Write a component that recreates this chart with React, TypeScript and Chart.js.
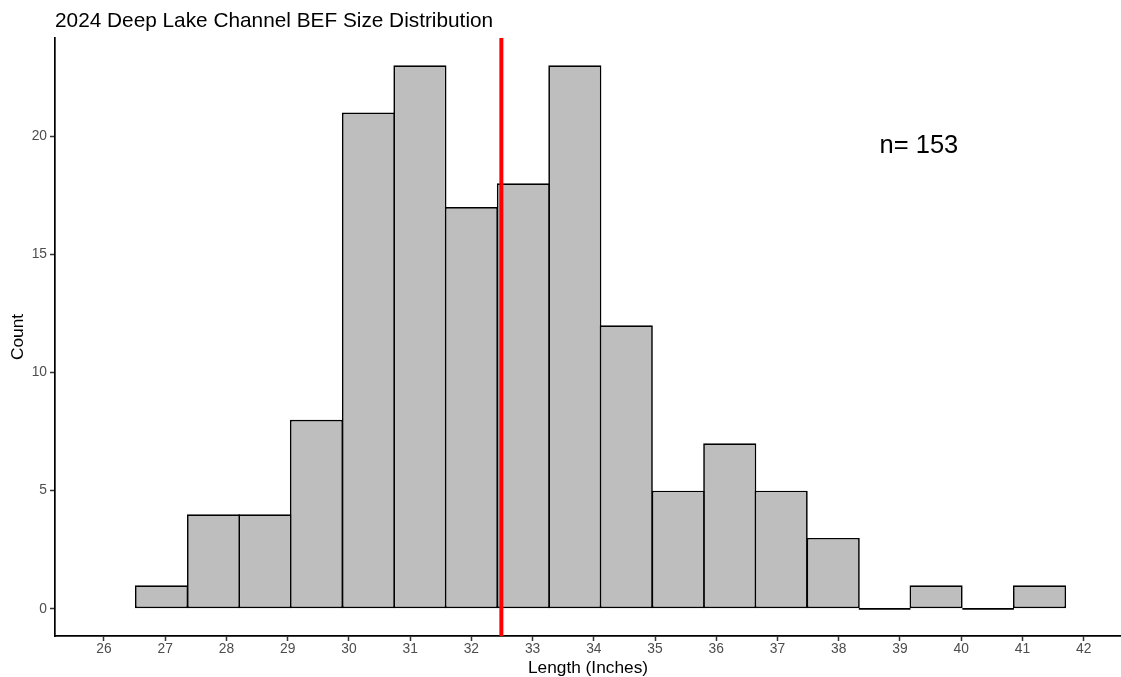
import React, { useEffect, useRef } from "react";
import { Chart, registerables } from "chart.js";

Chart.register(...registerables);

// ---- Data ----
const TITLE = "2024 Deep Lake Channel BEF Size Distribution";
const X_TITLE = "Length (Inches)";
const Y_TITLE = "Count";
const BIN_CENTERS = [
  26.94, 27.79, 28.63, 29.47, 30.32, 31.16, 32.0, 32.85, 33.69, 34.53, 35.38,
  36.22, 37.06, 37.91, 38.75, 39.59, 40.44, 41.28,
];
const COUNTS = [1, 4, 4, 8, 21, 23, 17, 18, 23, 12, 5, 7, 5, 3, 0, 1, 0, 1];
const BIN_WIDTH = 0.843;
const MEAN_LENGTH = 32.49;
const X_TICKS = [26, 27, 28, 29, 30, 31, 32, 33, 34, 35, 36, 37, 38, 39, 40, 41, 42];
const Y_TICKS = [0, 5, 10, 15, 20];
const X_LIMITS = [25.2, 42.61];
const Y_LIMITS = [-1.15, 24.15];
const N_LABEL = "n= 153";
const N_LABEL_POS = { x: 39.31, y: 19.58 };

const FONT = "'Liberation Sans', Arial, sans-serif";

const titlePlugin = {
  id: "customTitle",
  afterDraw(chart: any) {
    const ctx = chart.ctx;
    ctx.save();
    ctx.font = `20.8px ${FONT}`;
    ctx.fillStyle = "#000000";
    ctx.textAlign = "left";
    ctx.textBaseline = "alphabetic";
    ctx.fillText(TITLE, chart.chartArea.left, 26.6);
    ctx.restore();
  },
};

const annotationPlugin = {
  id: "nLabel",
  afterDatasetsDraw(chart: any) {
    const ctx = chart.ctx;
    const x = chart.scales.x.getPixelForValue(N_LABEL_POS.x);
    const y = chart.scales.y.getPixelForValue(N_LABEL_POS.y);
    ctx.save();
    ctx.font = `25.5px ${FONT}`;
    ctx.fillStyle = "#000000";
    ctx.textAlign = "center";
    ctx.textBaseline = "middle";
    ctx.fillText(N_LABEL, x, y);
    ctx.restore();
  },
};

export default function App() {
  const ref = useRef<HTMLCanvasElement | null>(null);

  useEffect(() => {
    document.body.style.margin = "0";
    const canvas = ref.current;
    if (!canvas) return;

    const barData = BIN_CENTERS.map((x, i) => ({ x, y: COUNTS[i] }));
    // outline for empty bins (zero-height bars)
    const emptyBins: any[] = [];
    BIN_CENTERS.forEach((c, i) => {
      if (COUNTS[i] === 0) {
        emptyBins.push({ x: c - BIN_WIDTH / 2, y: 0 });
        emptyBins.push({ x: c + BIN_WIDTH / 2, y: 0 });
        emptyBins.push({ x: c + BIN_WIDTH / 2 + 0.001, y: null });
      }
    });
    const meanLine = [
      { x: MEAN_LENGTH, y: Y_LIMITS[0] },
      { x: MEAN_LENGTH, y: Y_LIMITS[1] },
    ];

    const tickFont = { family: FONT, size: 13.8 };

    const chart = new Chart(canvas, {
      type: "bar",
      data: {
        datasets: [
          {
            type: "bar",
            label: "count",
            data: barData as any,
            backgroundColor: "#BEBEBE",
            borderColor: "#000000",
            borderWidth: 1.7,
            borderSkipped: false,
            barPercentage: 1.033,
            categoryPercentage: 1,
            order: 2,
          } as any,
          {
            type: "line",
            label: "empty",
            data: emptyBins,
            borderColor: "#000000",
            borderWidth: 1.7,
            pointRadius: 0,
            spanGaps: false,
            order: 1,
          } as any,
          {
            type: "line",
            label: "mean",
            data: meanLine as any,
            borderColor: "#FF0000",
            borderWidth: 4,
            pointRadius: 0,
            order: 0,
          } as any,
        ],
      },
      options: {
        animation: false,
        responsive: false,
        layout: { padding: { top: 38, left: 0, right: 0, bottom: 0 } },
        plugins: {
          legend: { display: false },
          tooltip: { enabled: false },
          title: { display: false },
        },
        scales: {
          x: {
            type: "linear",
            min: X_LIMITS[0],
            max: X_LIMITS[1],
            offset: false,
            afterBuildTicks: (scale: any) => {
              scale.ticks = X_TICKS.map((v) => ({ value: v }));
            },
            afterFit: (scale: any) => {
              scale.height = 41;
            },
            grid: {
              display: true,
              drawOnChartArea: false,
              drawTicks: true,
              tickLength: 5,
              tickColor: "#333333",
              tickWidth: 1.5,
              offset: false,
            },
            border: { display: true, color: "#000000", width: 1.7 },
            ticks: {
              color: "#4D4D4D",
              font: tickFont,
              padding: 0,
              maxRotation: 0,
              autoSkip: false,
              callback: (v: any) => String(v),
            },
            title: {
              display: true,
              text: X_TITLE,
              color: "#000000",
              font: { family: FONT, size: 17.3, lineHeight: 1 },
              padding: { top: 0, bottom: 0.4 },
            },
          },
          y: {
            type: "linear",
            min: Y_LIMITS[0],
            max: Y_LIMITS[1],
            afterBuildTicks: (scale: any) => {
              scale.ticks = Y_TICKS.map((v) => ({ value: v }));
            },
            afterFit: (scale: any) => {
              scale.width = 55;
            },
            grid: {
              display: true,
              drawOnChartArea: false,
              drawTicks: true,
              tickLength: 5,
              tickColor: "#333333",
              tickWidth: 1.5,
            },
            border: { display: true, color: "#000000", width: 1.7 },
            ticks: {
              color: "#4D4D4D",
              font: tickFont,
              padding: 3,
              autoSkip: false,
              callback: (v: any) => String(v),
            },
            title: {
              display: true,
              text: Y_TITLE,
              color: "#000000",
              font: { family: FONT, size: 17.3, lineHeight: 1 },
              padding: { top: 9.4, bottom: 0 },
            },
          },
        },
      } as any,
      plugins: [titlePlugin, annotationPlugin],
    });

    return () => {
      chart.destroy();
    };
  }, []);

  return (
    <div style={{ width: 1121, height: 677 }}>
      <canvas ref={ref} width={1121} height={677} style={{ display: "block" }} />
    </div>
  );
}
